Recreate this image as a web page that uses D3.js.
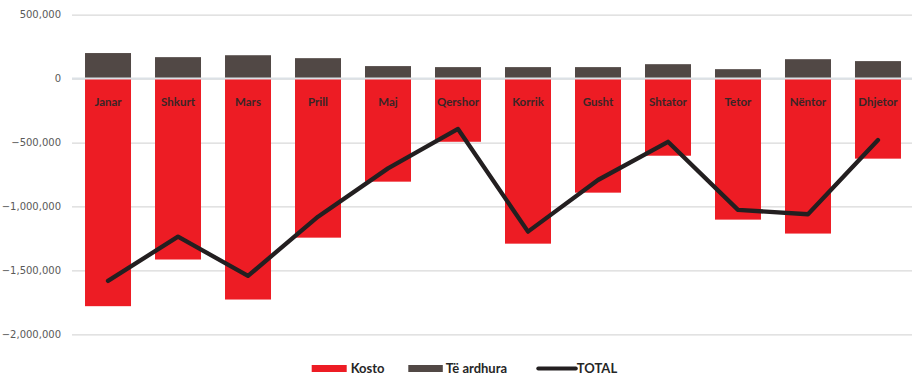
<!DOCTYPE html>
<html>
<head>
<meta charset="utf-8">
<script src="https://cdn.jsdelivr.net/npm/d3@7"></script>
<style>
  html, body { margin: 0; padding: 0; background: #fff; }
  svg { display: block; }
</style>
</head>
<body>
<svg id="chart" width="913" height="375"></svg>
<script>
// Monthly costs, income and net total
const months = ["Janar", "Shkurt", "Mars", "Prill", "Maj", "Qershor", "Korrik", "Gusht", "Shtator", "Tetor", "Nëntor", "Dhjetor"];
const kosto = [-1780000, -1415000, -1728000, -1244000, -806000, -494000, -1291000, -892000, -603000, -1103000, -1212000, -626000];
const teArdhura = [200000, 168000, 183000, 160000, 98000, 90000, 90000, 90000, 113000, 74000, 152000, 137000];
const total = [-1582000, -1236000, -1543000, -1080000, -702000, -394000, -1197000, -793000, -494000, -1027000, -1061000, -480000];
const yTicks = [500000, 0, -500000, -1000000, -1500000, -2000000];
const legendItems = ["Kosto", "Të ardhura", "TOTAL"];

const colors = { kosto: "#ED1C24", ardhura: "#514845", total: "#231F20" };

const svg = d3.select("#chart");
const plot = { left: 72, right: 912, top: 14.7, bottom: 334.3 };

const x = d3.scaleBand().domain(months).range([plot.left, plot.left + 842]).paddingInner(0.343).paddingOuter(0.186);
const y = d3.scaleLinear().domain([-2000000, 500000]).range([plot.bottom, plot.top]);

// Gridlines and value axis
const yAxis = d3.axisLeft(y).tickValues(yTicks).tickSize(-(plot.right - plot.left)).tickFormat(d3.format(","));
const gy = svg.append("g").attr("transform", `translate(${plot.left},0)`).call(yAxis);
gy.select(".domain").remove();
gy.selectAll(".tick line").attr("stroke", "#d9d9d9").attr("stroke-width", 1.2);
gy.selectAll(".tick text")
  .attr("x", -11)
  .attr("fill", "#595959")
  .style("font-family", "'DejaVu Sans', sans-serif")
  .style("font-size", "10px");

// Cost bars (negative)
svg.append("g").selectAll("rect").data(months).join("rect")
  .attr("x", d => x(d))
  .attr("width", x.bandwidth())
  .attr("y", y(0))
  .attr("height", (d, i) => y(kosto[i]) - y(0))
  .attr("fill", colors.kosto);

// Income bars (positive)
svg.append("g").selectAll("rect").data(months).join("rect")
  .attr("x", d => x(d))
  .attr("width", x.bandwidth())
  .attr("y", (d, i) => y(teArdhura[i]))
  .attr("height", (d, i) => y(0) - y(teArdhura[i]))
  .attr("fill", colors.ardhura);

// Zero line drawn over the bars
svg.append("line")
  .attr("x1", plot.left).attr("x2", plot.right)
  .attr("y1", y(0)).attr("y2", y(0))
  .attr("stroke", "#dce1e6").attr("stroke-width", 2);

// Month names inside the cost bars
svg.append("g").selectAll("text").data(months).join("text")
  .attr("x", d => x(d) + x.bandwidth() / 2)
  .attr("y", 105.7)
  .attr("text-anchor", "middle")
  .attr("fill", "#3a2526")
  .style("font-family", "Lato, 'Open Sans', sans-serif")
  .style("font-weight", "700")
  .style("font-size", "11.5px")
  .text(d => d);

// Net total line
const line = d3.line()
  .x((d, i) => x(months[i]) + x.bandwidth() / 2)
  .y(d => y(d));
svg.append("path")
  .datum(total)
  .attr("d", line)
  .attr("fill", "none")
  .attr("stroke", colors.total)
  .attr("stroke-width", 4.3)
  .attr("stroke-linejoin", "round")
  .attr("stroke-linecap", "round");

// Legend
const legend = svg.append("g").style("font-family", "Lato, 'Open Sans', sans-serif").style("font-weight", "700").style("font-size", "13px").attr("fill", "#262626");
const legX = [311.7, 408.3, 538.3];
const legY = 372.5;
legend.append("rect").attr("x", legX[0]).attr("y", legY - 7.5).attr("width", 35).attr("height", 7).attr("fill", colors.kosto);
legend.append("text").attr("x", legX[0] + 39).attr("y", legY).text(legendItems[0]);
legend.append("rect").attr("x", legX[1]).attr("y", legY - 7.5).attr("width", 34.5).attr("height", 7).attr("fill", colors.ardhura);
legend.append("text").attr("x", legX[1] + 37.5).attr("y", legY).text(legendItems[1]);
legend.append("line").attr("x1", legX[2]).attr("x2", legX[2] + 37.5).attr("y1", legY - 4).attr("y2", legY - 4)
  .attr("stroke", colors.total).attr("stroke-width", 4).attr("stroke-linecap", "round");
legend.append("text").attr("x", legX[2] + 38.5).attr("y", legY).text(legendItems[2]);
</script>
</body>
</html>
